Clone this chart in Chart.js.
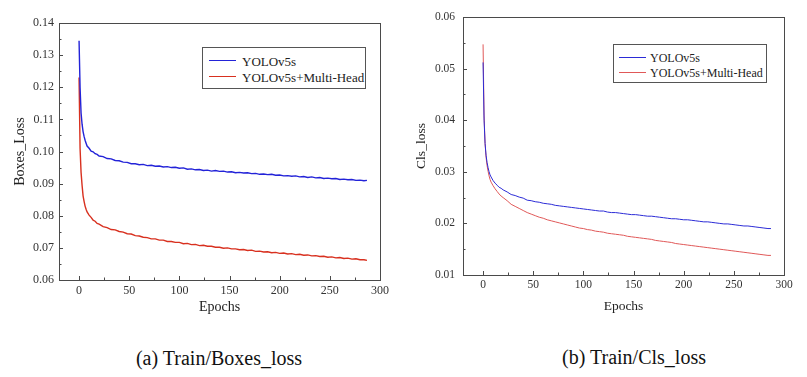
<!DOCTYPE html>
<html>
<head>
<meta charset="utf-8">
<script src="https://cdn.jsdelivr.net/npm/chart.js@4.4.1/dist/chart.umd.min.js"></script>
<style>
  body { margin: 0; background: #fff; width: 807px; height: 377px; position: relative; overflow: hidden;
         font-family: "Liberation Serif", "Times New Roman", serif; color: #222; }
  .panel { position: absolute; top: 0; height: 320px; }
  .legend { position: absolute; border: 1px solid #555; background: #fff; box-sizing: border-box; }
  .legend .row { position: absolute; left: 0; white-space: nowrap; }
  .legend .swatch { position: absolute; height: 0; }
  .legend .label { position: absolute; transform: translateY(-50%); line-height: 1; }
  .caption { position: absolute; font-size: 20px; white-space: nowrap; transform: translate(-50%, -50%); color: #111; }
</style>
</head>
<body>
<div class="panel" style="left:0;width:400px"><canvas id="boxes"></canvas></div>
<div class="panel" style="left:400px;width:407px"><canvas id="cls"></canvas></div>
<div class="caption" style="left:219px;top:358px">(a) Train/Boxes_loss</div>
<div class="caption" style="left:634px;top:357px">(b) Train/Cls_loss</div>

<script>
const epochs = [0, 1, 2, 3, 4, 5, 6, 7, 8, 10, 12, 14, 16, 18, 20,
  24, 28, 32, 36, 40, 44, 48, 52, 56, 60, 64, 68, 72, 76, 80, 84, 88, 92, 96, 100,
  104, 108, 112, 116, 120, 124, 128, 132, 136, 140, 144, 148, 152, 156, 160, 164, 168, 172, 176, 180,
  184, 188, 192, 196, 200, 204, 208, 212, 216, 220, 224, 228, 232, 236, 240, 244, 248, 252, 256, 260,
  264, 268, 272, 276, 280, 284, 287];

const seriesNames = ["YOLOv5s", "YOLOv5s+Multi-Head"];

//(a) Boxes loss
const boxesBase = [0.1345, 0.1200, 0.1120, 0.1085, 0.1062, 0.1047, 0.1035, 0.1026, 0.1017, 0.1010, 0.1001, 0.0999, 0.0993, 0.0991, 0.0986,
  0.0984, 0.0978, 0.0977, 0.0972, 0.0971, 0.0967, 0.0966, 0.0962, 0.0962, 0.0959, 0.0960, 0.0956, 0.0957, 0.0954, 0.0955, 0.0952, 0.0953, 0.0950, 0.0951, 0.0948,
  0.0949, 0.0945, 0.0946, 0.0943, 0.0944, 0.0941, 0.0942, 0.0939, 0.0941, 0.0938, 0.0939, 0.0936, 0.0937, 0.0934, 0.0935, 0.0933, 0.0934, 0.0931, 0.0932, 0.0929,
  0.0930, 0.0928, 0.0929, 0.0926, 0.0927, 0.0924, 0.0925, 0.0923, 0.0924, 0.0921, 0.0922, 0.0919, 0.0921, 0.0918, 0.0919, 0.0916, 0.0917, 0.0915, 0.0916, 0.0913,
  0.0914, 0.0912, 0.0913, 0.0910, 0.0911, 0.0909, 0.0910];
const boxesMultiHead = [0.1230, 0.1010, 0.0935, 0.0895, 0.0862, 0.0845, 0.0830, 0.0820, 0.0812, 0.0802, 0.0795, 0.0786, 0.0783, 0.0776, 0.0774,
  0.0766, 0.0763, 0.0757, 0.0756, 0.0751, 0.0749, 0.0744, 0.0743, 0.0738, 0.0737, 0.0733, 0.0732, 0.0728, 0.0728, 0.0724, 0.0724, 0.0720, 0.0720, 0.0717, 0.0717,
  0.0713, 0.0714, 0.0710, 0.0711, 0.0707, 0.0708, 0.0705, 0.0705, 0.0702, 0.0702, 0.0699, 0.0700, 0.0697, 0.0697, 0.0694, 0.0695, 0.0692, 0.0693, 0.0689, 0.0690,
  0.0687, 0.0688, 0.0685, 0.0686, 0.0683, 0.0684, 0.0681, 0.0682, 0.0679, 0.0680, 0.0677, 0.0678, 0.0675, 0.0676, 0.0673, 0.0674, 0.0671, 0.0672, 0.0669, 0.0670,
  0.0667, 0.0668, 0.0665, 0.0666, 0.0663, 0.0663, 0.0661];

//(b) Cls loss
const clsBase = [0.0512, 0.0400, 0.0355, 0.0332, 0.0318, 0.0308, 0.0300, 0.0294, 0.0290, 0.0283, 0.0278, 0.0274, 0.0270, 0.0268, 0.0265,
  0.0261, 0.0256, 0.0254, 0.0251, 0.0249, 0.0245, 0.0244, 0.0242, 0.0241, 0.0239, 0.0238, 0.0237, 0.0235, 0.0234, 0.0233, 0.0232, 0.0231, 0.0230, 0.0229, 0.0228,
  0.0227, 0.0226, 0.0225, 0.0224, 0.0224, 0.0222, 0.0221, 0.0221, 0.0220, 0.0219, 0.0218, 0.0217, 0.0217, 0.0216, 0.0215, 0.0214, 0.0214, 0.0213, 0.0212, 0.0211,
  0.0210, 0.0209, 0.0209, 0.0208, 0.0207, 0.0207, 0.0206, 0.0205, 0.0204, 0.0203, 0.0203, 0.0202, 0.0201, 0.0200, 0.0199, 0.0199, 0.0198, 0.0197, 0.0196, 0.0195,
  0.0195, 0.0194, 0.0193, 0.0192, 0.0191, 0.0190, 0.0190];
const clsMultiHead = [0.0547, 0.0410, 0.0355, 0.0328, 0.0312, 0.0301, 0.0292, 0.0285, 0.0280, 0.0273, 0.0267, 0.0262, 0.0257, 0.0253, 0.0250,
  0.0244, 0.0237, 0.0233, 0.0229, 0.0225, 0.0221, 0.0218, 0.0215, 0.0212, 0.0210, 0.0207, 0.0205, 0.0203, 0.0201, 0.0199, 0.0197, 0.0195, 0.0193, 0.0191, 0.0190,
  0.0188, 0.0187, 0.0185, 0.0184, 0.0183, 0.0181, 0.0180, 0.0179, 0.0178, 0.0177, 0.0175, 0.0174, 0.0173, 0.0172, 0.0171, 0.0170, 0.0169, 0.0167, 0.0166, 0.0165,
  0.0164, 0.0163, 0.0161, 0.0160, 0.0159, 0.0158, 0.0157, 0.0156, 0.0155, 0.0154, 0.0153, 0.0152, 0.0151, 0.0150, 0.0149, 0.0148, 0.0147, 0.0146, 0.0145, 0.0144,
  0.0143, 0.0142, 0.0141, 0.0140, 0.0139, 0.0138, 0.0138];

//Tick values
const xTicks = [0, 50, 100, 150, 200, 250, 300];
const xMinorTicks = [25, 75, 125, 175, 225, 275];
const boxesYTicks = [0.06, 0.07, 0.08, 0.09, 0.10, 0.11, 0.12, 0.13, 0.14];
const boxesYMinor = [0.065, 0.075, 0.085, 0.095, 0.105, 0.115, 0.125, 0.135];
const clsYTicks = [0.01, 0.02, 0.03, 0.04, 0.05, 0.06];
const clsYMinor = [0.015, 0.025, 0.035, 0.045, 0.055];

//Plot frame + inward tick marks
const frameTicks = {
  id: "frameTicks",
  afterDraw(chart, args, opts) {
    const { ctx, chartArea: a, scales: { x, y } } = chart;
    ctx.save();
    ctx.strokeStyle = "#4a4a4a";
    ctx.lineWidth = 1;
    ctx.strokeRect(a.left + 0.5, a.top + 0.5, a.right - a.left, a.bottom - a.top);
    ctx.beginPath();
    const xMark = (v, len) => {
      const px = Math.round(x.getPixelForValue(v)) + 0.5;
      ctx.moveTo(px, a.bottom);
      ctx.lineTo(px, a.bottom - len);
    };
    const yMark = (v, len) => {
      const py = Math.round(y.getPixelForValue(v)) + 0.5;
      ctx.moveTo(a.left, py);
      ctx.lineTo(a.left + len, py);
    };
    opts.xMajor.forEach((v) => xMark(v, 4));
    opts.xMinor.forEach((v) => xMark(v, 2.5));
    opts.yMajor.forEach((v) => yMark(v, 4));
    opts.yMinor.forEach((v) => yMark(v, 2.5));
    ctx.stroke();
    ctx.restore();
  },
};

function buildLegend(panelLeft, box, names, colors, lineWidth, fontSize) {
  const legend = document.createElement("div");
  legend.className = "legend";
  legend.style.left = panelLeft + box.left + "px";
  legend.style.top = box.top + "px";
  legend.style.width = box.width + "px";
  legend.style.height = box.height + "px";
  names.forEach((name, i) => {
    const swatch = document.createElement("div");
    swatch.className = "swatch";
    swatch.style.left = box.swatchX + "px";
    swatch.style.width = "27px";
    swatch.style.top = box.rows[i] - lineWidth / 2 + "px";
    swatch.style.borderTop = lineWidth + "px solid " + colors[i];
    legend.appendChild(swatch);
    const label = document.createElement("div");
    label.className = "label";
    label.style.left = box.textX + "px";
    label.style.top = box.rows[i] + "px";
    label.style.fontSize = fontSize + "px";
    label.textContent = name;
    legend.appendChild(label);
  });
  document.body.appendChild(legend);
}

function buildChart(canvasId, cfg) {
  const canvas = document.getElementById(canvasId);
  const datasets = cfg.series.map((values, i) => ({
    label: seriesNames[i],
    data: epochs.map((e, k) => ({ x: e, y: values[k] })),
    borderColor: cfg.colors[i],
    borderWidth: cfg.lineWidth,
    pointRadius: 0,
    tension: 0,
    fill: false,
  }));
  return new Chart(canvas.getContext("2d"), {
    type: "line",
    data: { datasets: datasets },
    options: {
      responsive: false,
      animation: false,
      devicePixelRatio: 1,
      layout: { padding: { left: 0, top: cfg.area.top, right: cfg.area.right, bottom: 0 } },
      plugins: {
        legend: { display: false },
        tooltip: { enabled: false },
        frameTicks: { xMajor: xTicks, xMinor: xMinorTicks, yMajor: cfg.yTicks, yMinor: cfg.yMinor },
      },
      scales: {
        x: {
          type: "linear",
          min: -20,
          max: 300,
          afterBuildTicks: (scale) => { scale.ticks = xTicks.map((v) => ({ value: v })); },
          afterFit: (scale) => { scale.height = cfg.area.xHeight; },
          grid: { display: false, drawTicks: false },
          border: { display: false },
          ticks: { color: "#333", padding: cfg.xTickPad, maxRotation: 0,
                   font: { family: "Liberation Serif", size: cfg.tickSize } },
          title: { display: true, text: "Epochs", color: "#222", padding: { bottom: cfg.xTitlePad, top: 0 },
                   font: { family: "Liberation Serif", size: cfg.titleSize } },
        },
        y: {
          type: "linear",
          min: cfg.yTicks[0],
          max: cfg.yTicks[cfg.yTicks.length - 1],
          afterBuildTicks: (scale) => { scale.ticks = cfg.yTicks.map((v) => ({ value: v })); },
          afterFit: (scale) => { scale.width = cfg.area.yWidth; },
          grid: { display: false, drawTicks: false },
          border: { display: false },
          ticks: { color: "#333", padding: cfg.yTickPad, callback: (v) => v.toFixed(2),
                   font: { family: "Liberation Serif", size: cfg.tickSize } },
          title: { display: true, text: cfg.yTitle, color: "#222", padding: { top: cfg.yTitlePad, bottom: 0 },
                   font: { family: "Liberation Serif", size: cfg.titleSize } },
        },
      },
    },
    plugins: [frameTicks],
  });
}

const boxesColors = ["#2323d8", "#d8301f"];
const clsColors = ["#2b2bd6", "#e05858"];

document.getElementById("boxes").width = 400;
document.getElementById("boxes").height = 320;
document.getElementById("cls").width = 407;
document.getElementById("cls").height = 320;

buildChart("boxes", {
  series: [boxesBase, boxesMultiHead],
  colors: boxesColors,
  lineWidth: 1.4,
  yTitle: "Boxes_Loss",
  yTicks: boxesYTicks,
  yMinor: boxesYMinor,
  area: { top: 23, right: 20, yWidth: 59, xHeight: 40 },
  tickSize: 12, titleSize: 14,
  xTickPad: 4, yTickPad: 5, xTitlePad: 4, yTitlePad: 12,
});

buildChart("cls", {
  series: [clsBase, clsMultiHead],
  colors: clsColors,
  lineWidth: 1,
  yTitle: "Cls_loss",
  yTicks: clsYTicks,
  yMinor: clsYMinor,
  area: { top: 17, right: 23, yWidth: 63, xHeight: 45 },
  tickSize: 11.5, titleSize: 13.5,
  xTickPad: 3, yTickPad: 8, xTitlePad: 5, yTitlePad: 13.5,
});

buildLegend(0, { left: 202, top: 47, width: 164, height: 42, swatchX: 6, textX: 39, rows: [13, 29] },
  seriesNames, boxesColors, 1.5, 13);
buildLegend(400, { left: 213, top: 44, width: 154, height: 39, swatchX: 5, textX: 36, rows: [12.5, 27.5] },
  seriesNames, clsColors, 1, 12);
</script>
</body>
</html>
